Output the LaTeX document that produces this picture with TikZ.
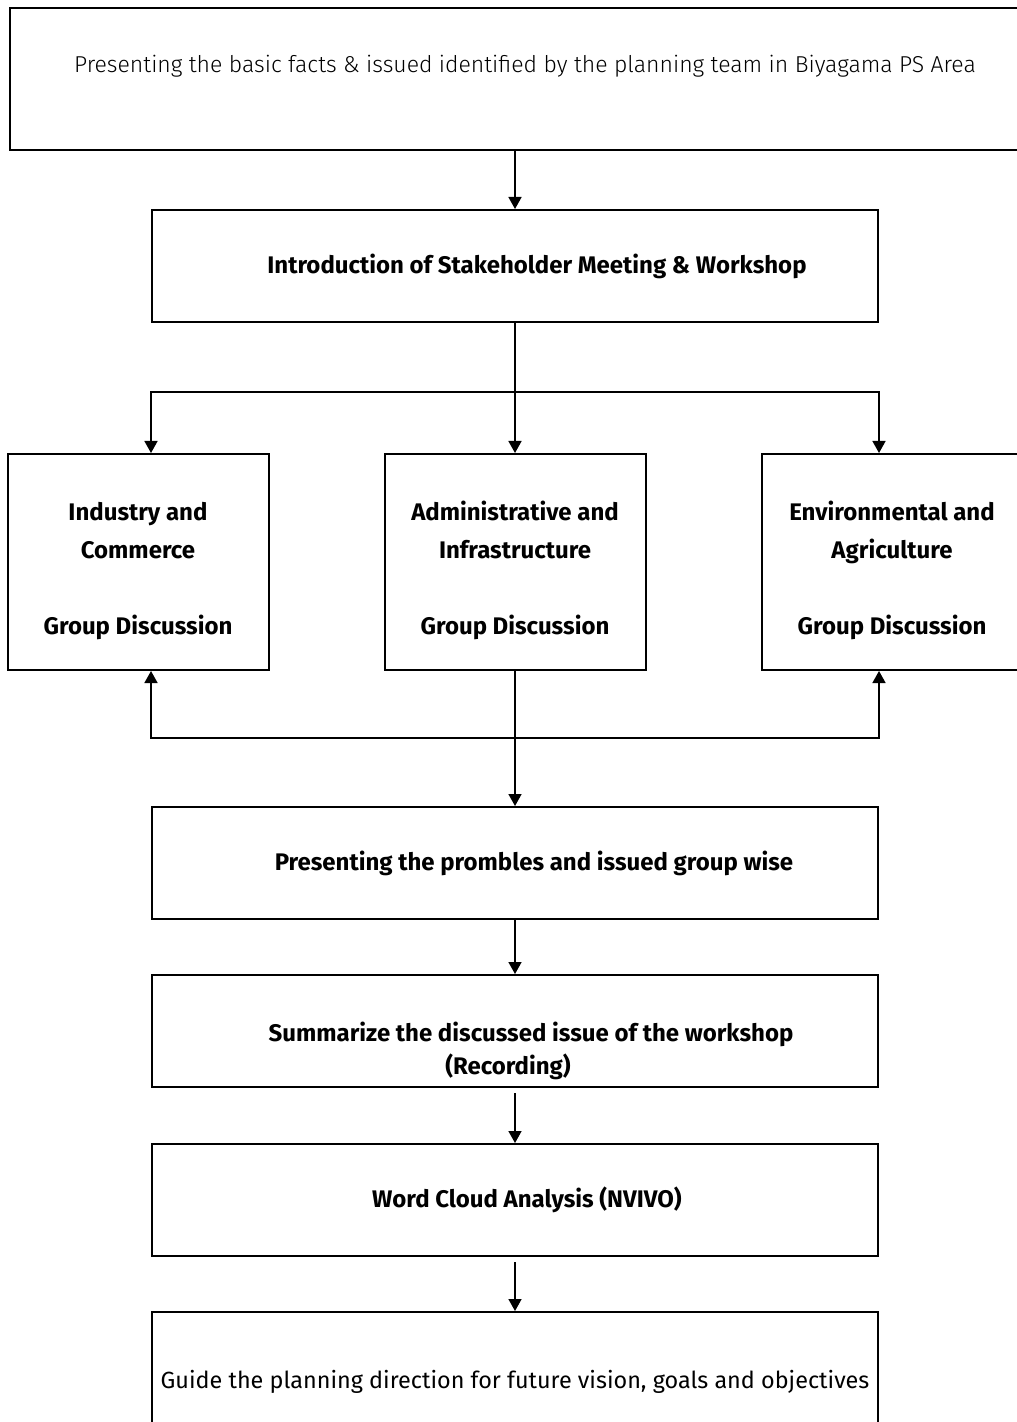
\documentclass[tikz,border=0pt]{standalone}
\usepackage{fontspec}
\setmainfont{Fira Sans}
\newfontfamily\lightfont{Fira Sans Light}
\usetikzlibrary{positioning, arrows.meta}

\begin{document}
\begin{tikzpicture}[
    node distance=29pt,
    box/.style={rectangle, draw, line width=1pt, align=center, minimum width=363pt, minimum height=56pt, inner sep=0pt, font=\bfseries\fontsize{12pt}{16.5pt}\selectfont},
    groupbox/.style={box, minimum width=130.5pt, minimum height=108pt, font=\bfseries\fontsize{12pt}{19pt}\selectfont},
    arrow/.style={-{Triangle[width=6.5pt,length=6pt]}, line width=0.8pt}
  ]
  \useasboundingbox (0,0) rectangle (508pt,-711pt);

  \node[box, minimum width=515pt, minimum height=71pt, font=\lightfont\fontsize{11.5pt}{13pt}\selectfont, text height=8pt, text depth=14pt] (facts) at (262.5pt,-39.5pt) {Presenting the basic facts \& issued identified by the planning team in Biyagama PS Area};
  \node[box, below=29pt of facts, xshift=-5pt] (intro) {\hspace*{22pt}Introduction of Stakeholder Meeting \& Workshop};

  % group discussions
  \node[groupbox, below=65pt of intro] (admin) {\rule{0pt}{18pt}Administrative and\\Infrastructure\\[19pt]Group Discussion};
  \node[groupbox, left=57pt of admin] (industry) {\rule{0pt}{18pt}Industry and\\Commerce\\[19pt]Group Discussion};
  \node[groupbox, right=57pt of admin] (environ) {\rule{0pt}{18pt}Environmental and\\Agriculture\\[19pt]Group Discussion};

  \node[box, below=67.5pt of admin] (problems) {\hspace*{19pt}Presenting the prombles and issued group wise};
  \node[box, below=27pt of problems] (summary) {\rule{0pt}{30pt}\hspace*{16pt}Summarize the discussed issue of the workshop\\(Recording)\hspace*{7pt}};
  \node[box, below=27.5pt of summary] (cloud) {\hspace*{12pt}Word Cloud Analysis (NVIVO)};
  \node[box, below=27pt of cloud, font=\fontsize{11.7pt}{13pt}\selectfont, text height=23pt, text depth=3pt] (guide) {Guide the planning direction for future vision, goals and objectives};

  \draw[arrow] (intro.north |- facts.south) -- (intro.north);
  \draw[arrow] (intro) -- (admin);
  \draw[arrow] ([yshift=-34.5pt]intro.south) -| (intro.west |- industry.north);
  \draw[arrow] ([yshift=-34.5pt]intro.south) -| (intro.east |- environ.north);
  \draw[arrow] (admin) -- (problems);
  \draw[arrow] ([yshift=-33.5pt]admin.south) -| (intro.west |- industry.south);
  \draw[arrow] ([yshift=-33.5pt]admin.south) -| (intro.east |- environ.south);
  \draw[arrow] (problems) -- (summary);
  \draw[arrow, shorten <=2.5pt] (summary) -- (cloud);
  \draw[arrow, shorten <=2.5pt] (cloud) -- (guide);
\end{tikzpicture}
\end{document}
